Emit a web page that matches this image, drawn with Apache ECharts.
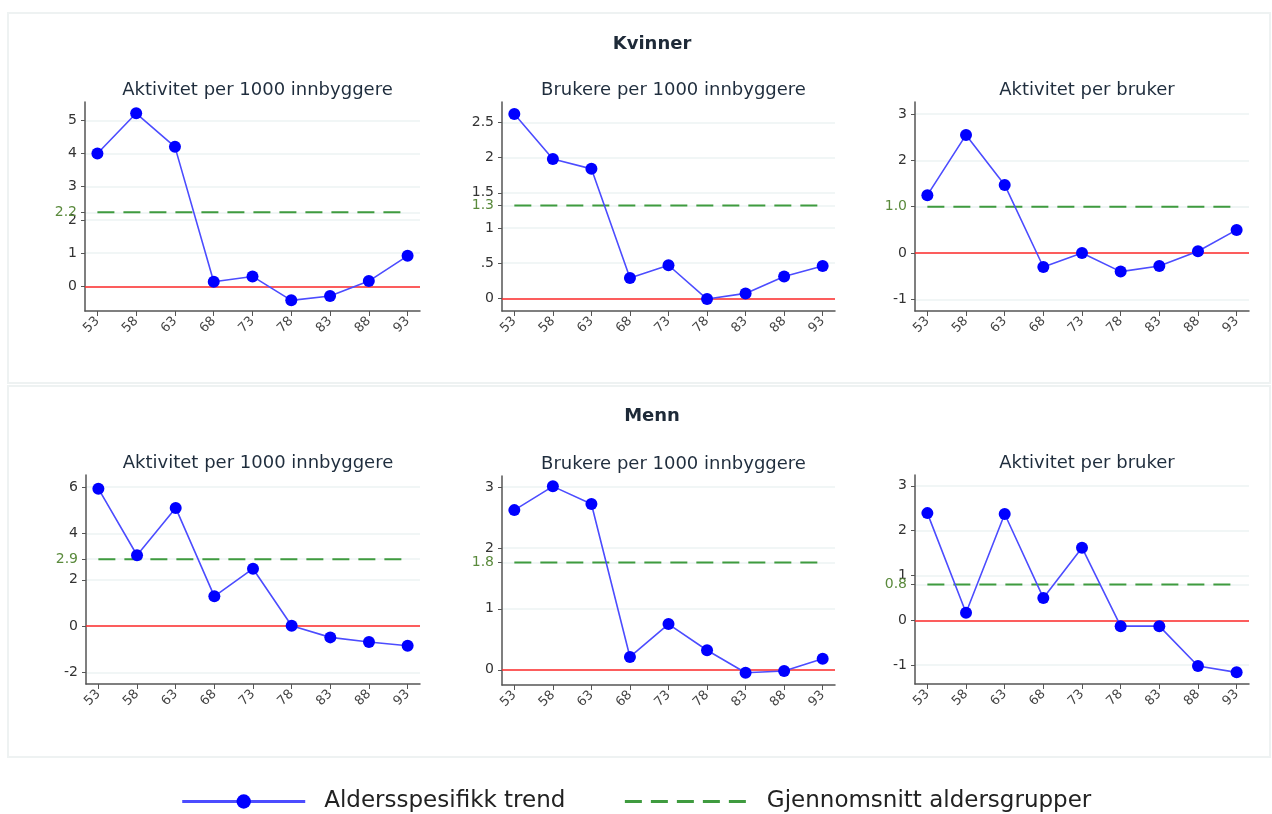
<!DOCTYPE html>
<html>
<head>
<meta charset="utf-8">
<script src="https://cdn.jsdelivr.net/npm/echarts@6/dist/echarts.min.js"></script>
<style>
  html, body { margin: 0; padding: 0; background: #ffffff; }
  #chart { width: 1272px; height: 814px; }
</style>
</head>
<body>
<div id="chart"></div>
<script>
// Age groups (x axis)
const ages = [53, 58, 63, 68, 73, 78, 83, 88, 93];

// Kvinner
const kvAktivitet = [4.0, 5.21, 4.2, 0.14, 0.3, -0.42, -0.29, 0.16, 0.92];
const kvBrukere   = [2.62, 1.98, 1.84, 0.29, 0.47, -0.01, 0.07, 0.31, 0.46];
const kvPerBruker = [1.25, 2.55, 1.47, -0.30, 0.0, -0.40, -0.28, 0.04, 0.5];

// Menn
const mnAktivitet = [5.93, 3.06, 5.1, 1.29, 2.48, 0.02, -0.48, -0.68, -0.84];
const mnBrukere   = [2.62, 3.01, 2.72, 0.21, 0.75, 0.32, -0.05, -0.02, 0.18];
const mnPerBruker = [2.39, 0.17, 2.37, 0.50, 1.62, -0.13, -0.13, -1.02, -1.16];

// Average over age groups, one per panel
const kvMeans = [2.23, 1.32, 1.0];
const mnMeans = [2.89, 1.76, 0.80];

// Y tick labels per panel
const yTicksKv = [[0, 1, 2, 3, 4, 5], [0, 0.5, 1, 1.5, 2, 2.5], [-1, 0, 1, 2, 3]];
const yTicksMn = [[-2, 0, 2, 4, 6], [0, 1, 2, 3], [-1, 0, 1, 2, 3]];

const panelTitles = ['Aktivitet per 1000 innbyggere', 'Brukere per 1000 innbyggere', 'Aktivitet per bruker'];
const groupTitles = ['Kvinner', 'Menn'];
const trendName = 'Aldersspesifikk trend';
const meanName = 'Gjennomsnitt aldersgrupper';

const panels = [
  { values: kvAktivitet, mean: kvMeans[0], ticks: yTicksKv[0], range: [-0.74, 5.55] },
  { values: kvBrukere,   mean: kvMeans[1], ticks: yTicksKv[1], range: [-0.18, 2.79] },
  { values: kvPerBruker, mean: kvMeans[2], ticks: yTicksKv[2], range: [-1.25, 3.26] },
  { values: mnAktivitet, mean: mnMeans[0], ticks: yTicksMn[0], range: [-2.49, 6.52] },
  { values: mnBrukere,   mean: mnMeans[1], ticks: yTicksMn[1], range: [-0.25, 3.18] },
  { values: mnPerBruker, mean: mnMeans[2], ticks: yTicksMn[2], range: [-1.42, 3.24] }
];

const gridBoxes = [
  { left: 85,  top: 102, width: 335, height: 209 },
  { left: 502, top: 102, width: 333, height: 209 },
  { left: 915, top: 102, width: 334, height: 209 },
  { left: 86,  top: 475, width: 334, height: 209 },
  { left: 502, top: 476, width: 333, height: 209 },
  { left: 915, top: 475, width: 334, height: 209 }
];

const FONT = 'DejaVu Sans';
const AXIS_COLOR = '#555555';
const GRID_COLOR = '#edf3f3';
const MEAN_COLOR = '#3f9b3f';
const MEAN_LABEL_COLOR = '#5a8a3c';

function tickText(v) {
  let s = String(v);
  if (v > 0 && v < 1) s = s.replace(/^0/, '');
  return s;
}

const grid = [], xAxis = [], yAxis = [], series = [], title = [];

groupTitles.forEach((t, r) => {
  title.push({
    text: t, left: 647, top: r === 0 ? 30 : 402, textAlign: 'center',
    textStyle: { fontFamily: FONT, fontSize: 18, fontWeight: 'bold', color: '#1e2a38' }
  });
});

panels.forEach((p, i) => {
  const g = gridBoxes[i];
  grid.push(Object.assign({ containLabel: false }, g));
  title.push({
    text: panelTitles[i % 3],
    left: g.left + g.width / 2,
    top: g.top - 26,
    textAlign: 'center',
    textStyle: { fontFamily: FONT, fontSize: 18, fontWeight: 'normal', color: '#1f2d3d' }
  });

  xAxis.push({
    gridIndex: i, type: 'value', min: 51.4, max: 94.6,
    axisLine: { onZero: false, lineStyle: { color: AXIS_COLOR, width: 1.5 } },
    axisTick: { customValues: ages, length: 5, lineStyle: { color: AXIS_COLOR, width: 1 } },
    axisLabel: { customValues: ages, rotate: 45, margin: 8, fontFamily: FONT, fontSize: 13, color: '#444' },
    splitLine: { show: false }
  });

  const labelTicks = p.ticks.filter(t => Math.abs(t - p.mean) > 0.05);
  yAxis.push({
    gridIndex: i, type: 'value', min: p.range[0], max: p.range[1],
    axisLine: { show: true, onZero: false, lineStyle: { color: AXIS_COLOR, width: 1.5 } },
    axisTick: { show: true, customValues: p.ticks.concat([p.mean]), length: 4, lineStyle: { color: AXIS_COLOR, width: 1 } },
    axisLabel: { customValues: labelTicks, formatter: tickText, margin: 8, fontFamily: FONT, fontSize: 14, color: '#333' },
    splitLine: { show: true, lineStyle: { color: GRID_COLOR, width: 1.5 } }
  });

  // Mean over age groups: dashed line across the age range, value printed at the axis
  series.push({
    name: meanName, type: 'line', xAxisIndex: i, yAxisIndex: i, z: 3,
    data: [[ages[0], p.mean], [ages[ages.length - 1], p.mean]],
    symbol: 'none', silent: true,
    lineStyle: { color: MEAN_COLOR, width: 2, type: [17, 9] },
    itemStyle: { color: MEAN_COLOR },
    markLine: {
      silent: true, symbol: ['none', 'none'],
      lineStyle: { color: 'rgba(0,0,0,0)', width: 0 },
      label: {
        show: true, position: 'start', distance: 8,
        formatter: (d) => Number(d.value).toFixed(1),
        fontFamily: FONT, fontSize: 14, color: MEAN_LABEL_COLOR
      },
      data: [{ yAxis: p.mean }]
    }
  });

  // Age-specific trend with zero reference line
  series.push({
    name: trendName, type: 'line', xAxisIndex: i, yAxisIndex: i, z: 10,
    data: ages.map((a, k) => [a, p.values[k]]),
    symbol: 'circle', symbolSize: 12,
    lineStyle: { color: '#4c4cff', width: 1.6 },
    itemStyle: { color: '#0000ff' },
    markLine: {
      silent: true, symbol: ['none', 'none'],
      lineStyle: { color: '#ff2a2a', width: 1.6, type: 'solid' },
      label: { show: false },
      data: [{ yAxis: 0 }]
    }
  });
});

const option = {
  backgroundColor: '#ffffff',
  animation: false,
  graphic: [
    { type: 'rect', z: -10, shape: { x: 8, y: 13, width: 1262, height: 370 },
      style: { fill: '#ffffff', stroke: '#eef2f2', lineWidth: 2 } },
    { type: 'rect', z: -10, shape: { x: 8, y: 386, width: 1262, height: 371 },
      style: { fill: '#ffffff', stroke: '#eef2f2', lineWidth: 2 } }
  ],
  title,
  grid, xAxis, yAxis, series,
  legend: {
    data: [
      trendName,
      { name: meanName, itemStyle: { opacity: 0, borderWidth: 0 } }
    ],
    left: 'center', top: 785,
    itemWidth: 123, itemHeight: 18, itemGap: 58,
    lineStyle: { width: 3 },
    textStyle: { fontFamily: FONT, fontSize: 23, color: '#222', padding: [0, 0, 0, 14] },
    selectedMode: false
  }
};

const chart = echarts.init(document.getElementById('chart'), null, { renderer: 'canvas' });
chart.setOption(option);
</script>
</body>
</html>
